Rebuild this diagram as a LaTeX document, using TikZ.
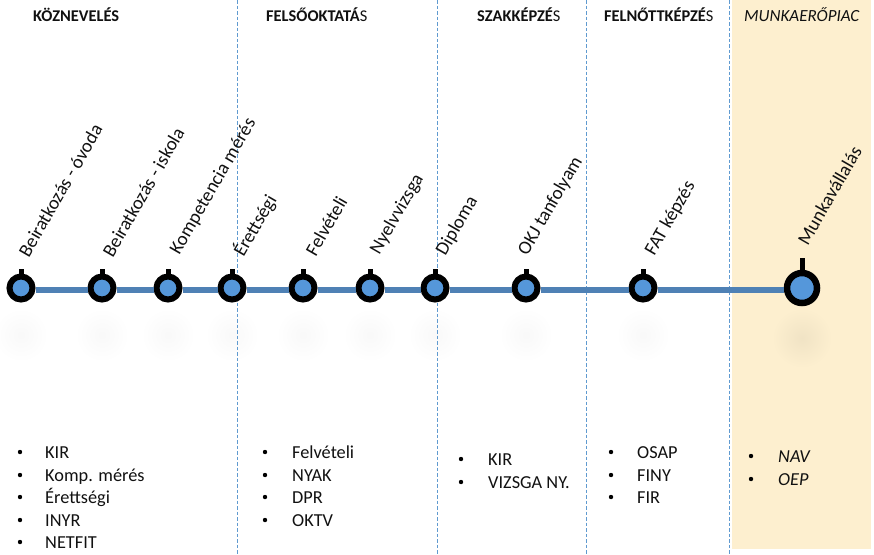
\documentclass[tikz,border=0pt]{standalone}
\usepackage{fontspec}
\setmainfont{Carlito}
\definecolor{panelc}{HTML}{FDEFCF}
\definecolor{linec}{HTML}{4F81B5}
\definecolor{dotc}{HTML}{5597DA}
\definecolor{dashc}{HTML}{5F9AD0}
\definecolor{txtc}{HTML}{111111}
\tikzset{
  ev/.style={circle,draw=black,line width=6pt,fill=dotc,minimum size=23pt,inner sep=0pt},
  evbig/.style={circle,draw=black,line width=6.5pt,fill=dotc,minimum size=30pt,inner sep=0pt},
  evlabel/.style={rotate=60,anchor=west,inner sep=0pt,font=\fontsize{19}{21}\selectfont,text=txtc},
  head/.style={anchor=base west,inner sep=0pt,font=\fontsize{16.4}{18}\selectfont,text=txtc},
  headit/.style={head,font=\fontsize{17}{18}\selectfont\itshape},
  listtxt/.style={anchor=base west,inner sep=0pt,font=\fontsize{18.3}{20}\selectfont,text=txtc},
  listit/.style={listtxt,font=\fontsize{18.3}{20}\selectfont\itshape},
  divider/.style={dashc,line width=0.8pt,dash pattern=on 3.5pt off 2pt},
  tick/.style={line width=5pt,black},
}
\newcommand{\bul}[2]{\fill[black] (#1,#2-5) circle (2.2pt);}
\begin{document}
\begin{tikzpicture}[x=1pt,y=-1pt]
\useasboundingbox (0,0) rectangle (874,554);
\fill[white] (0,0) rectangle (874,554);
\fill[panelc] (732,0) rectangle (871,549);
% shadows
\foreach \x in {21,102,168,232,303,370,435,526,643}{
  \shade[inner color=black!2.5,outer color=white,draw=none] (\x,335) circle (27pt);
}
\shade[inner color=black!5!panelc,outer color=panelc,draw=none] (802,338) circle (30pt);
% dividers
\foreach \x/\n in {237/a,437/b,586/c,729/d}{
  \coordinate (top\n) at (\x,0);
  \coordinate (bot\n) at (\x,554);
  \draw[divider] (top\n) -- (bot\n);
}
% headers
\node[head] (h1) at (33,21) {\textbf{KÖZNEVELÉS}};
\node[head] (h2) at (266,21) {\textbf{FELSŐOKTATÁ}S};
\node[head] (h3) at (477,21) {\textbf{SZAKKÉPZÉ}S};
\node[head] (h4) at (604,21) {\textbf{FELNŐTTKÉPZÉ}S};
\node[headit] (h5) at (744,21) {MUNKAERŐPIAC};
% events
\node[ev] (e1) at (21,288) {};
\node[ev] (e2) at (102,288) {};
\node[ev] (e3) at (168,288) {};
\node[ev] (e4) at (232,288) {};
\node[ev] (e5) at (303,288) {};
\node[ev] (e6) at (370,288) {};
\node[ev] (e7) at (435,288) {};
\node[ev] (e8) at (526,288) {};
\node[ev] (e9) at (643,288) {};
\node[evbig] (e10) at (802,288) {};
% timeline
\begin{scope}[line width=5.5pt,linec]
\draw ([yshift=-2pt]e1.east) -- ([yshift=-2pt]e2.west);
\draw ([yshift=-2pt]e2.east) -- ([yshift=-2pt]e3.west);
\draw ([yshift=-2pt]e3.east) -- ([yshift=-2pt]e4.west);
\draw ([yshift=-2pt]e4.east) -- ([yshift=-2pt]e5.west);
\draw ([yshift=-2pt]e5.east) -- ([yshift=-2pt]e6.west);
\draw ([yshift=-2pt]e6.east) -- ([yshift=-2pt]e7.west);
\draw ([yshift=-2pt]e7.east) -- ([yshift=-2pt]e8.west);
\draw ([yshift=-2pt]e8.east) -- ([yshift=-2pt]e9.west);
\draw ([yshift=-2pt]e9.east) -- ([yshift=-2pt]e10.west);
\end{scope}
% ticks
\foreach \n in {1,...,9}{ \draw[tick] (e\n.north) -- ++(0,-5); }
\draw[tick] (e10.north) -- ++(0,-12);
% labels
\node[evlabel] (l1) at (23,255) {Beiratkozás - óvoda};
\node[evlabel] (l2) at (107,255) {Beiratkozás - iskola};
\node[evlabel] (l3) at (175,253) {Kompetencia mérés};
\node[evlabel] (l4) at (238,255) {Érettségi};
\node[evlabel] (l5) at (310,254) {Felvételi};
\node[evlabel] (l6) at (375,253) {Nyelvvizsga};
\node[evlabel] (l7) at (441,254) {Diploma};
\node[evlabel] (l8) at (523,254) {OKJ tanfolyam};
\node[evlabel] (l9) at (650,254) {FAT képzés};
\node[evlabel] (l10) at (802,243) {Munkavállalás};
% lists
\bul{20}{457}\node[listtxt] (a1) at (45,458) {KIR};
\bul{20}{480}\node[listtxt] (a2) at (45,481) {Komp. mérés};
\bul{20}{502}\node[listtxt] (a3) at (45,503) {Érettségi};
\bul{20}{525}\node[listtxt] (a4) at (45,526) {INYR};
\bul{20}{547}\node[listtxt] (a5) at (45,548) {NETFIT};
\bul{265}{457}\node[listtxt] (b1) at (292,458) {Felvételi};
\bul{265}{480}\node[listtxt] (b2) at (292,481) {NYAK};
\bul{265}{502}\node[listtxt] (b3) at (292,503) {DPR};
\bul{265}{525}\node[listtxt] (b4) at (292,526) {OKTV};
\bul{461}{464}\node[listtxt] (c1) at (488,465) {KIR};
\bul{461}{487}\node[listtxt] (c2) at (488,488) {VIZSGA NY.};
\bul{611}{457}\node[listtxt] (d1) at (637,458) {OSAP};
\bul{611}{480}\node[listtxt] (d2) at (637,481) {FINY};
\bul{611}{502}\node[listtxt] (d3) at (637,503) {FIR};
\bul{751}{461}\node[listit] (f1) at (778,462) {NAV};
\bul{751}{484}\node[listit] (f2) at (778,485) {OEP};
\end{tikzpicture}
\end{document}
